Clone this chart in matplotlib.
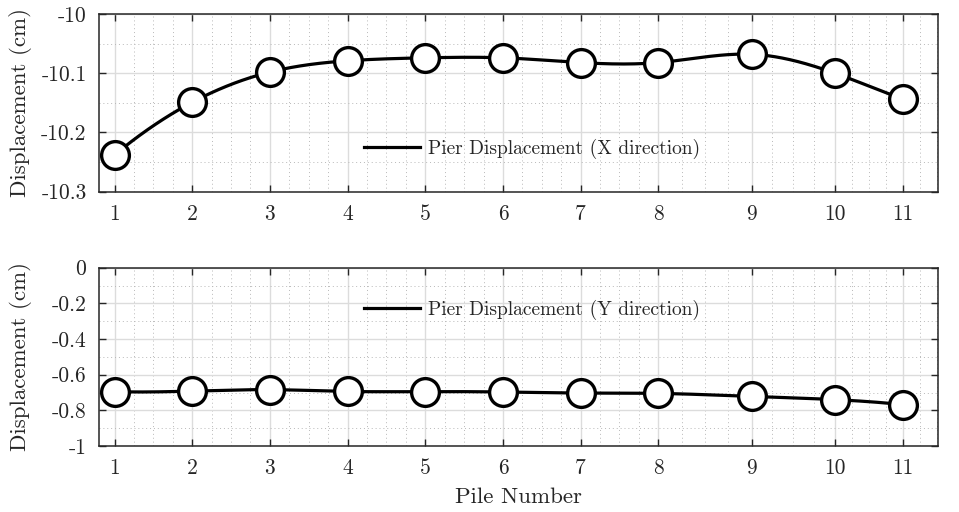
import numpy as np
import matplotlib
matplotlib.use("Agg")
import matplotlib.pyplot as plt
from matplotlib.ticker import FixedLocator, FixedFormatter

plt.rcParams["font.family"] = "serif"
plt.rcParams["font.serif"] = ["cmr10", "DejaVu Serif"]
plt.rcParams["axes.unicode_minus"] = False

# Pier positions along the bridge (m) and their pile numbers
pier_pos = [0, 40, 80, 120, 160, 200, 240, 280, 328, 371, 406]
pile_labels = ["1", "2", "3", "4", "5", "6", "7", "8", "9", "10", "11"]

# Pier displacements (cm)
disp_x = [-10.238, -10.149, -10.098, -10.079, -10.074, -10.074,
          -10.082, -10.082, -10.068, -10.100, -10.144]
disp_y = [-0.695, -0.692, -0.684, -0.694, -0.695, -0.697,
          -0.703, -0.705, -0.722, -0.740, -0.768]

x_ticks_top = [-10, -10.1, -10.2, -10.3]
x_ticklabels_top = ["-10", "-10.1", "-10.2", "-10.3"]
y_ticks_bot = [0, -0.2, -0.4, -0.6, -0.8, -1]
y_ticklabels_bot = ["0", "-0.2", "-0.4", "-0.6", "-0.8", "-1"]


def spline_not_a_knot(x, y, xs):
    """Cubic spline with not-a-knot end conditions."""
    x = np.asarray(x, float)
    y = np.asarray(y, float)
    n = len(x)
    h = np.diff(x)
    A = np.zeros((n, n))
    b = np.zeros(n)
    A[0, 0], A[0, 1], A[0, 2] = h[1], -(h[0] + h[1]), h[0]
    A[-1, -3], A[-1, -2], A[-1, -1] = h[-1], -(h[-2] + h[-1]), h[-2]
    for i in range(1, n - 1):
        A[i, i - 1] = h[i - 1]
        A[i, i] = 2 * (h[i - 1] + h[i])
        A[i, i + 1] = h[i]
        b[i] = 6 * ((y[i + 1] - y[i]) / h[i] - (y[i] - y[i - 1]) / h[i - 1])
    M = np.linalg.solve(A, b)
    xs = np.asarray(xs, float)
    idx = np.clip(np.searchsorted(x, xs) - 1, 0, n - 2)
    x0, x1 = x[idx], x[idx + 1]
    hh = x1 - x0
    m0, m1 = M[idx], M[idx + 1]
    y0, y1 = y[idx], y[idx + 1]
    return (m0 * (x1 - xs) ** 3 / (6 * hh) + m1 * (xs - x0) ** 3 / (6 * hh)
            + (y0 / hh - m0 * hh / 6) * (x1 - xs)
            + (y1 / hh - m1 * hh / 6) * (xs - x0))


# minor grid: quarter divisions of each span, continued past the last pier
minor_x = []
for a, c in zip(pier_pos[:-1], pier_pos[1:]):
    step = (c - a) / 4
    minor_x += [a + step * k for k in (1, 2, 3)]
last_step = (pier_pos[-1] - pier_pos[-2]) / 4
minor_x += [pier_pos[-1] + last_step, pier_pos[-1] + 2 * last_step]

fig = plt.figure(figsize=(9.59, 5.12), dpi=100)
W, H = 959, 512
ax1 = fig.add_axes([99 / W, 1 - 191.7 / H, (938 - 99) / W, (191.7 - 14) / H])
ax2 = fig.add_axes([99 / W, 1 - 446 / H, (938 - 99) / W, (446 - 267.7) / H])

text_col = "#262626"
xs = np.linspace(pier_pos[0], pier_pos[-1], 600)

setups = [
    (ax1, disp_x, (-10.3, -10), x_ticks_top, x_ticklabels_top,
     [-10.05, -10.15, -10.25], "Pier Displacement (X direction)", 0.24),
    (ax2, disp_y, (-1, 0), y_ticks_bot, y_ticklabels_bot,
     [-0.1, -0.3, -0.5, -0.7, -0.9], "Pier Displacement (Y direction)", 0.765),
]

for ax, vals, ylim, yt, ytl, yminor, lab, ly in setups:
    ax.plot(xs, spline_not_a_knot(pier_pos, vals, xs), color="black",
            lw=2.3, label=lab, zorder=3)
    ax.plot(pier_pos, vals, linestyle="none", marker="o", ms=20,
            mfc="white", mec="black", mew=2.4, zorder=4, clip_on=False)
    ax.set_xlim(-8, 424)
    ax.set_ylim(*ylim)
    ax.xaxis.set_major_locator(FixedLocator(pier_pos))
    ax.xaxis.set_major_formatter(FixedFormatter(pile_labels))
    ax.xaxis.set_minor_locator(FixedLocator(minor_x))
    ax.yaxis.set_major_locator(FixedLocator(yt))
    ax.yaxis.set_major_formatter(FixedFormatter(ytl))
    ax.yaxis.set_minor_locator(FixedLocator(yminor))
    ax.grid(True, which="major", color="#dcdcdc", lw=1.0, zorder=0)
    ax.grid(True, which="minor", color="#b8b8b8", lw=0.7,
            linestyle=(0, (1, 3)), zorder=0)
    ax.set_axisbelow(True)
    ax.tick_params(which="major", direction="in", length=5, width=1.0,
                   top=True, right=True, colors=text_col, labelsize=15.5)
    ax.tick_params(axis="y", which="major", pad=9)
    ax.tick_params(axis="x", which="major", pad=9)
    ax.tick_params(which="minor", length=0, top=True, right=True)
    for s in ax.spines.values():
        s.set_color(text_col)
        s.set_linewidth(1.1)
    ax.set_ylabel("Displacement (cm)", fontsize=16.5, color=text_col)
    ax.legend(loc="center", bbox_to_anchor=(0.516, ly), frameon=False,
              fontsize=14, handlelength=2.9, handletextpad=0.4,
              labelcolor=text_col)

ax1.yaxis.set_label_coords(-0.08, 0.5)
ax2.yaxis.set_label_coords(-0.08, 0.5)
ax2.set_xlabel("Pile Number", fontsize=16.5, color=text_col, labelpad=7)

fig.savefig("out.png", dpi=100)
